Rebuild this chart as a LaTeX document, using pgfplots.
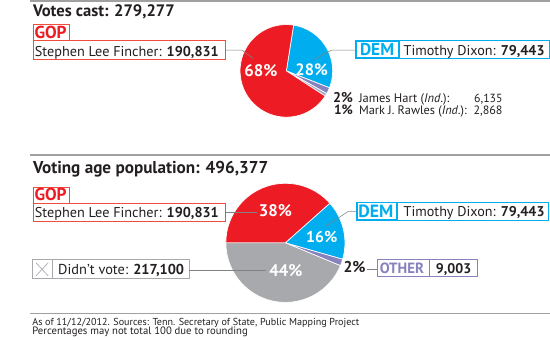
\documentclass[border=0pt]{standalone}
\usepackage{fontspec}
\setmainfont{PT Sans}
\usepackage{graphicx}
\usepackage{pgfplots}
\usepackage{pgfplotstable}
\pgfplotsset{compat=1.18}
\definecolor{gopred}{HTML}{ED1C24}
\definecolor{gopline}{HTML}{EF4E3A}
\definecolor{demblue}{HTML}{00AEEF}
\definecolor{indpurple}{HTML}{8781BD}
\definecolor{indlight}{HTML}{A9A7C9}
\definecolor{nvgray}{HTML}{A7A9AC}
\definecolor{rulegray}{HTML}{A0A0A0}
\definecolor{txt}{HTML}{231F20}
\definecolor{leader}{HTML}{808285}

\pgfplotstableread{
party votes
GOP 190831
DEM 79443
Hart 6135
Rawles 2868
}\votescast
\pgfplotstableread{
party votes
GOP 190831
DEM 79443
Other 9003
Nonvoters 217100
}\votingage

% text fitted to the width it takes in the reference
\newcommand\fw[2]{\resizebox{#1pt}{!}{#2}}

\begin{document}
% --- angles from the data
\pgfplotstablegetelem{0}{votes}\of\votescast \let\tR\pgfplotsretval
\pgfplotstablegetelem{1}{votes}\of\votescast \let\tD\pgfplotsretval
\pgfplotstablegetelem{2}{votes}\of\votescast \let\tH\pgfplotsretval
\pgfplotstablegetelem{3}{votes}\of\votescast \let\tM\pgfplotsretval
\edef\tTot{\fpeval{\tR+\tD+\tH+\tM}}
\edef\ta{81}
\edef\tb{\fpeval{\ta-360*\tD/\tTot}}
\edef\tc{\fpeval{\tb-360*\tH/\tTot}}
\edef\td{\fpeval{\tc-360*\tM/\tTot}}
\edef\te{\fpeval{\td-360*\tR/\tTot}}
\pgfplotstablegetelem{0}{votes}\of\votingage \let\bR\pgfplotsretval
\pgfplotstablegetelem{1}{votes}\of\votingage \let\bD\pgfplotsretval
\pgfplotstablegetelem{2}{votes}\of\votingage \let\bO\pgfplotsretval
\pgfplotstablegetelem{3}{votes}\of\votingage \let\bN\pgfplotsretval
\edef\bTot{\fpeval{\bR+\bD+\bO+\bN}}
\edef\ba{180}
\edef\bb{\fpeval{\ba-360*\bR/\bTot}}
\edef\bc{\fpeval{\bb-360*\bD/\bTot}}
\edef\bd{\fpeval{\bc-360*\bO/\bTot}}
\edef\be{\fpeval{\bd-360*\bN/\bTot}}
\begin{tikzpicture}[every node/.style={inner sep=0pt, text=txt}]
\begin{axis}[
  at={(0,0)}, anchor=south west,
  width=550pt, height=359pt, scale only axis,
  xmin=0, xmax=550, ymin=0, ymax=359, y dir=reverse,
  hide axis, clip=false]
% rules
\draw[rulegray, line width=1.3pt] (axis cs:0,1) -- (axis cs:550,1);
\draw[rulegray, line width=1.3pt] (axis cs:0,164) -- (axis cs:550,164);
\draw[rulegray, line width=1.3pt] (axis cs:0,332) -- (axis cs:550,332);

% ===== Top pie =====
\filldraw[fill=demblue, draw=white, line width=0.7pt] (axis cs:271,75) -- ([shift={(\ta:49pt)}]axis cs:271,75) arc[start angle=\ta, end angle=\tb, radius=49pt] -- cycle;
\filldraw[fill=indpurple, draw=white, line width=0.7pt] (axis cs:271,75) -- ([shift={(\tb:49pt)}]axis cs:271,75) arc[start angle=\tb, end angle=\tc, radius=49pt] -- cycle;
\filldraw[fill=indlight, draw=white, line width=0.7pt] (axis cs:271,75) -- ([shift={(\tc:49pt)}]axis cs:271,75) arc[start angle=\tc, end angle=\td, radius=49pt] -- cycle;
\filldraw[fill=gopred, draw=white, line width=0.7pt] (axis cs:271,75) -- ([shift={(\td:49pt)}]axis cs:271,75) arc[start angle=\td, end angle=\te, radius=49pt] -- cycle;

\node[anchor=base west] at (axis cs:2.7,17.5) {\fw{150}{\bfseries Votes cast: 279,277}};
% GOP
\draw[gopline, line width=0.9pt] (axis cs:3,26) rectangle (axis cs:41,43);
\node[anchor=base, text=gopred] at (axis cs:21.5,40.5) {\fw{34}{\bfseries GOP}};
\draw[gopline, line width=0.9pt] (axis cs:3,43) rectangle (axis cs:207,63);
\node[anchor=base west] at (axis cs:4.7,59.5) {\fw{194.5}{Stephen Lee Fincher: \textbf{190,831}}};
\draw[leader, line width=0.6pt] (axis cs:207,53) -- (axis cs:224,53) -- (axis cs:236,62);
\node[text=white] at (axis cs:244.2,75) {\fw{35}{\bfseries 68\%}};
\node[text=white] at (axis cs:297.8,74) {\fw{34.3}{\bfseries 28\%}};
% DEM
\draw[leader, line width=0.6pt] (axis cs:300,63) -- (axis cs:319,53) -- (axis cs:344,53);
\draw[demblue, line width=0.9pt] (axis cs:344,43) rectangle (axis cs:549,62);
\draw[demblue, line width=1.6pt] (axis cs:344.5,43.5) rectangle (axis cs:390,61.5);
\node[anchor=base, text=demblue] at (axis cs:367,59) {\fw{36}{\bfseries DEM}};
\node[anchor=base west] at (axis cs:395,58.5) {\fw{149}{Timothy Dixon: \textbf{79,443}}};
% independents
\node[anchor=base east] at (axis cs:341.7,108) {\fw{21}{\bfseries 2\%}};
\node[anchor=base west] at (axis cs:347.7,108) {\fw{95.7}{James Hart (\textit{Ind.}):}};
\node[anchor=base east] at (axis cs:500,108) {\fw{30}{6,135}};
\node[anchor=base east] at (axis cs:341.7,121.5) {\fw{20}{\bfseries 1\%}};
\node[anchor=base west] at (axis cs:347.7,121.5) {\fw{114}{Mark J. Rawles (\textit{Ind.}):}};
\node[anchor=base east] at (axis cs:500,121.5) {\fw{30.7}{2,868}};

% ===== Bottom pie =====
\filldraw[fill=gopred, draw=white, line width=0.7pt] (axis cs:270,257) -- ([shift={(\ba:63pt)}]axis cs:270,257) arc[start angle=\ba, end angle=\bb, radius=63pt] -- cycle;
\filldraw[fill=demblue, draw=white, line width=0.7pt] (axis cs:270,257) -- ([shift={(\bb:63pt)}]axis cs:270,257) arc[start angle=\bb, end angle=\bc, radius=63pt] -- cycle;
\filldraw[fill=indpurple, draw=white, line width=0.7pt] (axis cs:270,257) -- ([shift={(\bc:63pt)}]axis cs:270,257) arc[start angle=\bc, end angle=\bd, radius=63pt] -- cycle;
\filldraw[fill=nvgray, draw=white, line width=0.7pt] (axis cs:270,257) -- ([shift={(\bd:63pt)}]axis cs:270,257) arc[start angle=\bd, end angle=\be, radius=63pt] -- cycle;

\node[anchor=base west] at (axis cs:2.7,183.5) {\fw{249}{\bfseries Voting age population: 496,377}};
\draw[gopline, line width=0.9pt] (axis cs:3,198) rectangle (axis cs:41,215);
\node[anchor=base, text=gopred] at (axis cs:21.5,212) {\fw{34}{\bfseries GOP}};
\draw[gopline, line width=0.9pt] (axis cs:3,215) rectangle (axis cs:207,234);
\node[anchor=base west] at (axis cs:4.7,230.5) {\fw{194.5}{Stephen Lee Fincher: \textbf{190,831}}};
\draw[leader, line width=0.6pt] (axis cs:207,225) -- (axis cs:240,225);
\node[text=white] at (axis cs:259.4,223) {\fw{35}{\bfseries 38\%}};
\node[text=white] at (axis cs:308.4,251) {\fw{33}{\bfseries 16\%}};
\node[text=white] at (axis cs:270.5,286) {\fw{35}{\bfseries 44\%}};
% DEM
\draw[leader, line width=0.6pt] (axis cs:312,240) -- (axis cs:336,224) -- (axis cs:345,224);
\draw[demblue, line width=0.9pt] (axis cs:345,214) rectangle (axis cs:548,233);
\draw[demblue, line width=1.6pt] (axis cs:345.5,214.5) rectangle (axis cs:388,232.5);
\node[anchor=base, text=demblue] at (axis cs:365.8,230) {\fw{37}{\bfseries DEM}};
\node[anchor=base west] at (axis cs:395,229.5) {\fw{149}{Timothy Dixon: \textbf{79,443}}};
% other
\node[anchor=base east] at (axis cs:355,288) {\fw{23.3}{\bfseries 2\%}};
\draw[leader, line width=0.6pt] (axis cs:356,285) -- (axis cs:367,285);
\draw[indpurple, line width=0.9pt] (axis cs:367,275) rectangle (axis cs:473,293);
\draw[indpurple, line width=0.9pt] (axis cs:422,275) -- (axis cs:422,293);
\node[anchor=base, text=indpurple] at (axis cs:393.3,289.5) {\fw{46.7}{\bfseries OTHER}};
\node[anchor=base] at (axis cs:448,289.5) {\fw{37.3}{\bfseries 9,003}};
% didn't vote
\draw[nvgray, line width=0.9pt] (axis cs:2,275) rectangle (axis cs:168,295);
\draw[nvgray, line width=0.9pt] (axis cs:23,275) -- (axis cs:23,295);
\draw[nvgray, line width=0.7pt] (axis cs:6,278) -- (axis cs:19,292) (axis cs:6,292) -- (axis cs:19,278);
\node[anchor=base west] at (axis cs:29.3,291) {\fw{133.3}{Didn’t vote: \textbf{217,100}}};
\draw[leader, line width=0.6pt] (axis cs:168,286) -- (axis cs:249,286);

% footer
\node[anchor=base west] at (axis cs:2,344.3) {\fw{346}{As of 11/12/2012. Sources: Tenn. Secretary of State, Public Mapping Project}};
\node[anchor=base west] at (axis cs:2,354) {\fw{228}{Percentages may not total 100 due to rounding}};
\end{axis}
\pgfresetboundingbox
\path (0,0) rectangle (550pt,359pt);
\end{tikzpicture}
\end{document}
